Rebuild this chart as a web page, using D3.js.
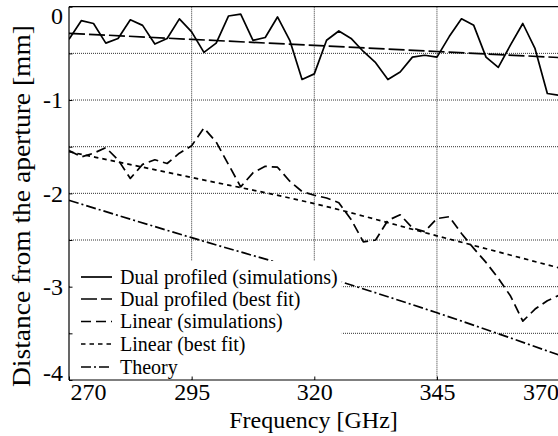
<!DOCTYPE html>
<html>
<head>
<meta charset="utf-8">
<script src="https://cdn.jsdelivr.net/npm/d3@7"></script>
<style>
  html, body { margin: 0; padding: 0; background: #fff; }
  svg { display: block; }
  text { font-family: "Liberation Serif", "Times New Roman", serif; fill: #000; }
</style>
</head>
<body>
<svg id="chart" width="558" height="436"></svg>
<script>
// ---------------- data ----------------
const freqSim = [270, 272.5, 275, 277.5, 280, 282.5, 285, 287.5, 290, 292.5,
                 295, 297.5, 300, 302.5, 305, 307.5, 310, 312.5, 315, 317.5,
                 320, 322.5, 325, 327.5, 330, 332.5, 335, 337.5, 340, 342.5,
                 345, 347.5, 350, 352.5, 355, 357.5, 360, 362.5, 365, 367.5, 370];

const dualSim = [-0.35, -0.15, -0.18, -0.39, -0.34, -0.14, -0.20, -0.40, -0.34, -0.13,
                 -0.27, -0.49, -0.39, -0.10, -0.08, -0.36, -0.33, -0.11, -0.36, -0.78,
                 -0.72, -0.36, -0.26, -0.34, -0.48, -0.60, -0.78, -0.70, -0.54, -0.52,
                 -0.54, -0.32, -0.13, -0.20, -0.54, -0.65, -0.41, -0.18, -0.45, -0.93, -0.95];

const linSim  = [-1.54, -1.61, -1.57, -1.51, -1.64, -1.84, -1.69, -1.64, -1.68, -1.57,
                 -1.49, -1.30, -1.45, -1.69, -1.93, -1.78, -1.71, -1.72, -1.87, -1.98,
                 -2.02, -2.05, -2.10, -2.28, -2.52, -2.50, -2.29, -2.23, -2.37, -2.41,
                 -2.27, -2.25, -2.43, -2.59, -2.74, -2.91, -3.10, -3.37, -3.24, -3.15, -3.09];

const freqFit = [270, 295, 320, 345, 370];
const dualFit = [-0.285, -0.35, -0.415, -0.48, -0.545];
const linFit  = [-1.554, -1.83, -2.11, -2.455, -2.80];
const theory  = [-2.075, -2.475, -2.86, -3.28, -3.735];

const xTicks = [270, 295, 320, 345, 370];
const yTicks = [0, -0.5, -1, -1.5, -2, -2.5, -3, -3.5, -4];
const yGrid  = [-0.5, -1, -1.5, -2, -2.5, -3, -3.5];
const xGrid  = [295, 320, 345, 370];

const seriesNames = ["Dual profiled (simulations)", "Dual profiled (best fit)",
                     "Linear (simulations)", "Linear (best fit)", "Theory"];
const xLabel = "Frequency [GHz]";
const yLabel = "Distance from the aperture [mm]";

// ---------------- layout ----------------
const svg = d3.select("#chart");
const X0 = 69, X1 = 559.6, Y0 = 6.7, Y1 = 380;
const x = d3.scaleLinear().domain([270, 370]).range([X0, X1]);
const y = d3.scaleLinear().domain([-4, 0]).range([Y1, Y0]);

const styles = [
  { dash: null },
  { dash: "16,4" },
  { dash: "10,5" },
  { dash: "4.5,4" },
  { dash: "10,3,2,3" }
];
const LW = 1.7;

svg.append("rect").attr("width", 558).attr("height", 436).attr("fill", "#fff");

svg.append("defs").append("clipPath").attr("id", "plotclip")
  .append("rect").attr("x", X0).attr("y", Y0).attr("width", X1 - X0).attr("height", Y1 - Y0);

// grid
const grid = svg.append("g");
grid.selectAll("line.h").data(yGrid).join("line")
  .attr("x1", X0).attr("x2", X1)
  .attr("y1", d => y(d)).attr("y2", d => y(d))
  .attr("stroke", "#333").attr("stroke-width", 1).attr("stroke-dasharray", "1,1");
grid.selectAll("line.v").data(xGrid).join("line")
  .attr("x1", d => x(d)).attr("x2", d => x(d))
  .attr("y1", Y0).attr("y2", Y1)
  .attr("stroke", "#333").attr("stroke-width", 1).attr("stroke-dasharray", "1,1");

// data lines
const plot = svg.append("g").attr("clip-path", "url(#plotclip)");
const line = d3.line().x(d => x(d[0])).y(d => y(d[1]));
const curve = d3.line().x(d => x(d[0])).y(d => y(d[1])).curve(d3.curveMonotoneX);

const seriesData = [
  { pts: d3.zip(freqSim, dualSim), gen: line },
  { pts: d3.zip(freqFit, dualFit), gen: line },
  { pts: d3.zip(freqSim, linSim),  gen: line },
  { pts: d3.zip(freqFit, linFit),  gen: curve },
  { pts: d3.zip(freqFit, theory),  gen: curve }
];
seriesData.forEach((s, i) => {
  plot.append("path")
    .attr("d", s.gen(s.pts))
    .attr("fill", "none")
    .attr("stroke", "#000")
    .attr("stroke-width", LW)
    .attr("stroke-linejoin", "round")
    .attr("stroke-dasharray", styles[i].dash);
});

// legend
const leg = svg.append("g");
leg.append("rect").attr("x", X0 + 0.8).attr("y", 261).attr("width", 341 - X0).attr("height", Y1 - 261 - 0.8)
  .attr("fill", "#fff");
const rowY = [277, 299, 321.5, 344, 367];
seriesNames.forEach((name, i) => {
  leg.append("line")
    .attr("x1", 81).attr("x2", 112).attr("y1", rowY[i]).attr("y2", rowY[i])
    .attr("stroke", "#000").attr("stroke-width", LW)
    .attr("stroke-dasharray", styles[i].dash);
  leg.append("text")
    .attr("x", 120).attr("y", rowY[i]).attr("dy", "0.33em")
    .attr("font-size", 20)
    .text(name);
});

// frame
const frame = svg.append("g").attr("fill", "none").attr("stroke", "#000").attr("stroke-width", 1.2);
frame.append("line").attr("x1", X0).attr("x2", X1).attr("y1", Y0).attr("y2", Y0);
frame.append("line").attr("x1", X0).attr("x2", X1).attr("y1", Y1).attr("y2", Y1);
frame.append("line").attr("x1", X0).attr("x2", X0).attr("y1", Y0).attr("y2", Y1);

// axes
const gy = svg.append("g").attr("transform", `translate(${X0},0)`)
  .call(d3.axisLeft(y).tickValues(yTicks).tickSize(-3.5).tickPadding(6)
    .tickFormat(d => Number.isInteger(d) ? String(d) : ""));
gy.select(".domain").remove();
gy.selectAll("text").attr("font-family", "Liberation Serif, serif").attr("font-size", 24)
  .attr("dy", (d) => d === 0 ? "0.7em" : d === -4 ? "0.0em" : "0.32em");
gy.selectAll("line").attr("stroke-width", 1);

const gx = svg.append("g").attr("transform", `translate(0,${Y1})`)
  .call(d3.axisBottom(x).tickValues(xTicks).tickSize(-3.5).tickPadding(3).tickFormat(d3.format("d")));
gx.select(".domain").remove();
gx.selectAll("text").attr("font-family", "Liberation Serif, serif").attr("font-size", 24)
  .attr("dx", d => d === 270 ? 19 : d === 370 ? -19 : 0);
gx.selectAll("line").attr("stroke-width", 1);

// axis labels
svg.append("text")
  .attr("x", 313.5).attr("y", 428)
  .attr("text-anchor", "middle").attr("font-size", 24)
  .text(xLabel);

svg.append("text")
  .attr("transform", "translate(30,206) rotate(-90)")
  .attr("text-anchor", "middle").attr("font-size", 25)
  .attr("textLength", 362).attr("lengthAdjust", "spacingAndGlyphs")
  .text(yLabel);
</script>
</body>
</html>
